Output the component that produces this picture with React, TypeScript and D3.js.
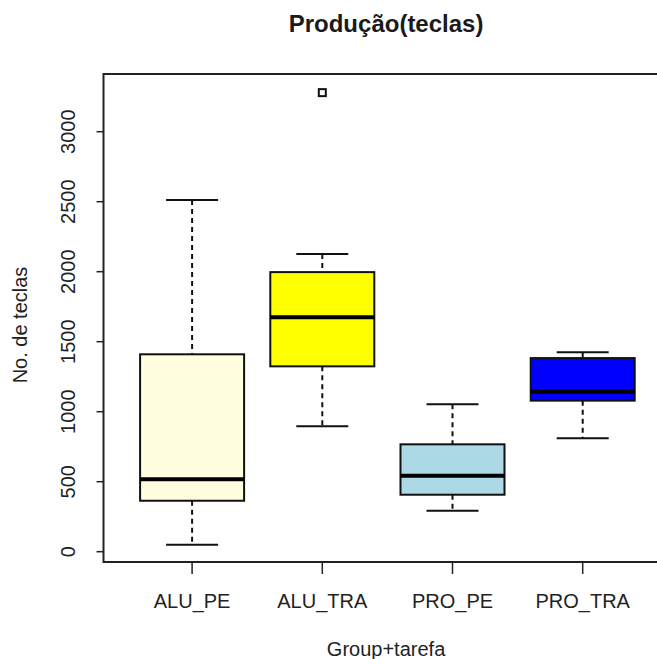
import React from "react";
import * as d3 from "d3";

const categories = ["ALU_PE", "ALU_TRA", "PRO_PE", "PRO_TRA"];
const lowerWhisker = [50, 896, 293, 810];
const q1 = [364, 1324, 407, 1079];
const median = [517, 1674, 543, 1143];
const q3 = [1410, 1997, 767, 1383];
const upperWhisker = [2512, 2126, 1053, 1424];
const outliers = [[], [3279], [], []];
const fills = ["#FFFFE0", "#FFFF00", "#ADD8E6", "#0000FF"];
const yTicks = [0, 500, 1000, 1500, 2000, 2500, 3000];

const W = 657;
const H = 659;
const font = "'Liberation Sans', Arial, sans-serif";

export default function App() {
  const y = d3.scaleLinear().domain([0, 3000]).range([551.7, 131.7]);
  const x = d3.scaleLinear().domain([1, 4]).range([192.1, 582.7]);
  const left = 103.5;
  const right = x(4.66);
  const top = 74;
  const bottom = 562;
  const halfBox = 52;
  const halfCap = 26;

  return (
    <svg
      width={W}
      height={H}
      style={{ position: "absolute", left: 0, top: 0, background: "#fff" }}
      fontFamily={font}
    >
      <rect x={0} y={0} width={W} height={H} fill="#fff" />
      {/* title */}
      <text
        x={(left + right) / 2}
        y={32}
        textAnchor="middle"
        fontSize={24}
        fontWeight="bold"
        fill="#1a1a1a"
      >
        Produção(teclas)
      </text>

      {/* boxes */}
      {categories.map((c, i) => {
        const cx = x(i + 1);
        return (
          <g key={c}>
            <line
              x1={cx}
              x2={cx}
              y1={y(upperWhisker[i])}
              y2={y(q3[i])}
              stroke="#111"
              strokeWidth={2}
              strokeDasharray="5,4"
            />
            <line
              x1={cx}
              x2={cx}
              y1={y(q1[i])}
              y2={y(lowerWhisker[i])}
              stroke="#111"
              strokeWidth={2}
              strokeDasharray="5,4"
            />
            <line
              x1={cx - halfCap}
              x2={cx + halfCap}
              y1={y(upperWhisker[i])}
              y2={y(upperWhisker[i])}
              stroke="#111"
              strokeWidth={2}
            />
            <line
              x1={cx - halfCap}
              x2={cx + halfCap}
              y1={y(lowerWhisker[i])}
              y2={y(lowerWhisker[i])}
              stroke="#111"
              strokeWidth={2}
            />
            <rect
              x={cx - halfBox}
              width={halfBox * 2}
              y={y(q3[i])}
              height={y(q1[i]) - y(q3[i])}
              fill={fills[i]}
              stroke="#111"
              strokeWidth={2}
            />
            <line
              x1={cx - halfBox}
              x2={cx + halfBox}
              y1={y(median[i])}
              y2={y(median[i])}
              stroke="#000"
              strokeWidth={4}
            />
            {outliers[i].map((v, j) => (
              <rect
                key={j}
                x={cx - 3.5}
                y={y(v) - 3.5}
                width={7}
                height={7}
                fill="none"
                stroke="#111"
                strokeWidth={2}
              />
            ))}
          </g>
        );
      })}

      {/* plot frame */}
      <rect
        x={left}
        y={top}
        width={right - left}
        height={bottom - top}
        fill="none"
        stroke="#222"
        strokeWidth={2}
      />

      {/* y axis ticks */}
      {yTicks.map((t) => (
        <g key={t}>
          <line x1={left - 7} x2={left} y1={y(t)} y2={y(t)} stroke="#222" strokeWidth={1.5} />
          <text
            transform={`translate(75,${y(t)}) rotate(-90)`}
            textAnchor="middle"
            fontSize={20}
            fill="#222"
          >
            {t}
          </text>
        </g>
      ))}

      {/* x axis ticks */}
      {categories.map((c, i) => (
        <g key={c}>
          <line x1={x(i + 1)} x2={x(i + 1)} y1={bottom} y2={bottom + 12} stroke="#222" strokeWidth={1.5} />
          <text x={x(i + 1)} y={608} textAnchor="middle" fontSize={20} fill="#222">
            {c}
          </text>
        </g>
      ))}

      {/* axis titles */}
      <text
        transform={`translate(27,325) rotate(-90)`}
        textAnchor="middle"
        fontSize={20}
        fill="#222"
      >
        No. de teclas
      </text>
      <text x={(left + right) / 2} y={656} textAnchor="middle" fontSize={20} fill="#222">
        Group+tarefa
      </text>
    </svg>
  );
}
